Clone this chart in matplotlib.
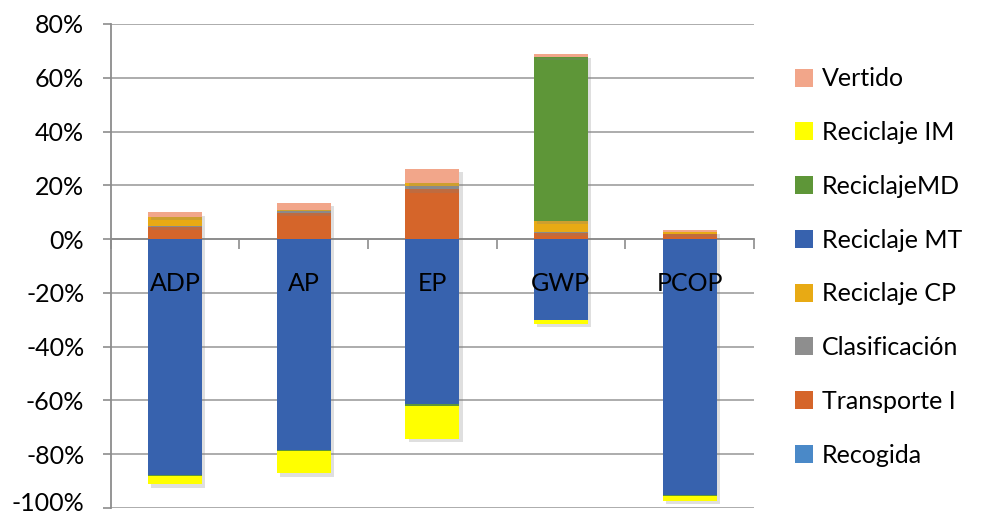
#!/usr/bin/env python3
# stacked impact bars (percent contribution per stage)

import numpy as np
import matplotlib.pyplot as plt
import matplotlib.patheffects as pe
import matplotlib.transforms as mtransforms
from matplotlib.patches import Patch
from matplotlib.ticker import FuncFormatter

categories = ["ADP", "AP", "EP", "GWP", "PCOP"]

series_names = ["Recogida", "Transporte I", "Clasificación", "Reciclaje CP",
                "Reciclaje MT", "ReciclajeMD", "Reciclaje IM", "Vertido"]

recogida = [0.2, 0.2, 0.2, 0.2, 0.1]
transporte = [4.3, 9.6, 18.3, 2.1, 1.8]
clasificacion = [0.4, 0.5, 1.4, 0.2, 0.1]
reciclaje_cp = [3.4, 0.6, 1.0, 4.3, 0.6]
reciclaje_mt = [-87.8, -78.4, -61.5, -30.0, -95.0]
reciclaje_md = [-0.4, -0.4, -0.4, 61.0, -0.4]
reciclaje_im = [-3.0, -8.2, -12.4, -1.5, -2.0]
vertido = [1.7, 2.7, 5.3, 1.0, 0.7]

colors = ["#4A89C8", "#D5652A", "#8E8E8E", "#E8AA14",
          "#3762AE", "#5E9638", "#FFFF00", "#F2A68A"]

plt.rcParams["font.family"] = ["Lato", "DejaVu Sans"]


def plot(ax):
    data = [recogida, transporte, clasificacion, reciclaje_cp,
            reciclaje_mt, reciclaje_md, reciclaje_im, vertido]
    x = np.arange(len(categories))
    pos_base = np.zeros(len(categories))
    neg_base = np.zeros(len(categories))
    shadow = [pe.SimplePatchShadow(offset=(2.5, -2.5), shadow_rgbFace="#808080", alpha=0.25),
              pe.Normal()]

    for vals, col in zip(data, colors):
        vals = np.array(vals, dtype=float)
        bottom = np.where(vals >= 0, pos_base, neg_base)
        bars = ax.bar(x, vals, 0.42, bottom=bottom, color=col, zorder=3, linewidth=0)
        for b in bars:
            b.set_path_effects(shadow)
        pos_base += np.clip(vals, 0, None)
        neg_base += np.clip(vals, None, 0)

    ax.set_xlim(-0.5, len(categories) - 0.5)
    ax.set_ylim(-100, 80)
    ax.set_yticks(np.arange(-100, 81, 20))
    ax.yaxis.set_major_formatter(FuncFormatter(lambda v, p: f"{v:.0f}%".replace("\u2212", "-")))
    ax.tick_params(axis="y", labelsize=18, length=6, width=1.2, color="#8C8C8C", pad=13)
    ax.grid(axis="y", color="#A6A6A6", linewidth=1.3, zorder=0)
    ax.set_axisbelow(True)

    # category axis sits on zero, ticks between categories
    ax.spines["bottom"].set_position(("data", 0))
    ax.spines["bottom"].set_color("#8C8C8C")
    ax.spines["bottom"].set_linewidth(1.3)
    ax.spines["left"].set_color("#8C8C8C")
    ax.spines["left"].set_linewidth(1.3)
    ax.spines["top"].set_visible(False)
    ax.spines["right"].set_visible(False)
    ax.set_xticks(np.arange(len(categories) + 1) - 0.5)
    ax.set_xticklabels([])
    ax.tick_params(axis="x", length=7, width=1.2, color="#8C8C8C", direction="out")

    for xi, name in zip(x, categories):
        ax.annotate(name, (xi, 0), xytext=(0, -24), textcoords="offset points",
                    ha="center", va="top", fontsize=18, zorder=6)

    handles = [Patch(facecolor=c, label=n) for n, c in zip(series_names, colors)]
    return handles[::-1]


def main():
    fig = plt.figure(figsize=(9.91, 5.18), dpi=100)
    ax = fig.add_axes([0.1117, 0.0193, 0.649, 0.9344])
    handles = plot(ax)

    # keep the lowest tick label inside the canvas
    fig.canvas.draw()
    low = ax.get_yticklabels()[0]
    low.set_transform(low.get_transform() +
                      mtransforms.ScaledTranslation(0, 5 / 72, fig.dpi_scale_trans))

    fig.legend(handles=handles, loc="upper left", bbox_to_anchor=(0.802, 0.870),
               frameon=False, fontsize=18, borderpad=0, borderaxespad=0,
               handlelength=0.72, handleheight=0.72, handletextpad=0.35,
               labelspacing=1.23)
    fig.savefig("out.png", dpi=100)


if __name__ == "__main__":
    main()
